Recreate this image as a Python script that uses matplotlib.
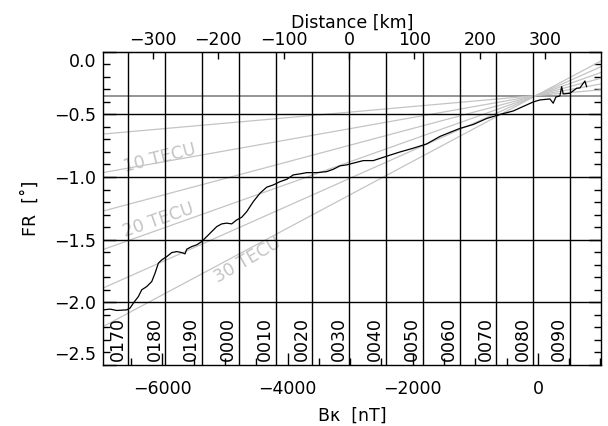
import matplotlib
matplotlib.use('Agg')
import matplotlib.pyplot as plt
from matplotlib.ticker import MultipleLocator, FuncFormatter, FixedLocator
import matplotlib.transforms as mtransforms

plt.rcParams['font.family'] = ['DejaVu Sans']

# ---- data ----
b_nT = [-6944, -6837, -6730, -6570, -6518, -6465, -6385, -6331, -6251, -6171,
        -6118, -6065, -6011, -5931, -5851, -5772, -5692, -5639, -5612, -5532,
        -5452, -5372, -5292, -5212, -5133, -5053, -4973, -4893, -4813, -4733,
        -4653, -4548, -4441, -4334, -4228, -4121, -4014, -3909, -3802, -3695,
        -3535, -3375, -3270, -3163, -3056, -3003, -2791, -2631, -2417, -2204,
        -1992, -1778, -1565, -1406, -1246, -1034, -819, -607, -395, -235,
        -75, 32, 192, 244, 288, 351, 379, 404, 511, 618,
        671, 724, 751, 778]
fr_deg = [-2.060, -2.054, -2.065, -2.060, -2.046, -2.006, -1.954, -1.900, -1.874, -1.834,
          -1.767, -1.687, -1.661, -1.635, -1.603, -1.595, -1.603, -1.613, -1.576, -1.555,
          -1.541, -1.515, -1.475, -1.435, -1.396, -1.374, -1.368, -1.374, -1.342, -1.321,
          -1.276, -1.196, -1.129, -1.081, -1.063, -1.037, -1.018, -0.983, -0.975, -0.965,
          -0.965, -0.957, -0.938, -0.911, -0.903, -0.896, -0.869, -0.869, -0.834, -0.800,
          -0.770, -0.736, -0.676, -0.644, -0.612, -0.581, -0.533, -0.501, -0.473, -0.437,
          -0.401, -0.385, -0.377, -0.411, -0.361, -0.353, -0.279, -0.337, -0.332, -0.292,
          -0.289, -0.252, -0.234, -0.279]

time_labels = ['0170', '0180', '0190', '0000', '0010', '0020', '0030',
               '0040', '0050', '0060', '0070', '0080', '0090']
time_B = [-6545, -5957, -5369, -4781, -4193, -3605, -3017,
          -2429, -1841, -1253, -665, -77, 511]

tec_values = [0, 5, 10, 15, 20, 25, 30]
fan_B0 = -30.0
fan_FR0 = -0.35
fan_k = 8.88e-6  # deg per nT per TECU

tec_labels = ['10 TECU', '20 TECU', '30 TECU']
tec_label_B = [-6597, -6597, -5107]
tec_label_FR = [-0.957, -1.475, -1.847]
tec_label_angle = [14, 19, 30]

km_zero_B = -3019.0
nT_per_km = 10.45

xlim = (-6950, 1008)
ylim = (-2.5, 0.0)

# ---- figure ----
fig = plt.figure(figsize=(6.08, 4.26), dpi=100)
ax = fig.add_axes([103/608, 1 - 365/426, (601-103)/608, (365-51.7)/426])
ax.set_xlim(*xlim)
ax.set_ylim(*ylim)

fs = 12.5
# fan lines
for tec in tec_values:
    xs = [xlim[0], xlim[1]]
    ys = [fan_FR0 + fan_k * tec * (x - fan_B0) for x in xs]
    if tec == 0:
        ax.plot(xs, ys, color='#8c8c8c', lw=1.3, zorder=2)
    else:
        ax.plot(xs, ys, color='#c4c4c4', lw=0.9, zorder=2)

for lab, bx, fy, ang in zip(tec_labels, tec_label_B, tec_label_FR, tec_label_angle):
    ax.text(bx, fy, lab, color='#c4c4c4', fontsize=fs, rotation=ang,
            rotation_mode='anchor', ha='left', va='baseline', zorder=2)

# grid lines
for y in [-0.5, -1.0, -1.5, -2.0]:
    ax.axhline(y, color='black', lw=1.0, zorder=3)
for bx in time_B:
    ax.axvline(bx, color='black', lw=1.0, zorder=3)

# time labels
for lab, bx in zip(time_labels, time_B):
    ax.text(bx - 25, -2.465, lab, rotation=90, ha='right', va='bottom',
            fontsize=fs, color='black', zorder=4)

# data curve
ax.plot(b_nT, fr_deg, color='black', lw=0.9, zorder=5)

# ticks
minus = '\u2212'
def fmt_y(v, pos):
    s = '%.1f' % v
    return s.replace('-', minus) if v < -1e-9 else '0.0'
def fmt_int(v, pos):
    s = '%d' % round(v)
    return s.replace('-', minus)

ax.xaxis.set_major_locator(FixedLocator([-6000, -4000, -2000, 0]))
ax.xaxis.set_minor_locator(MultipleLocator(500))
ax.xaxis.set_major_formatter(FuncFormatter(fmt_int))
ax.yaxis.set_major_locator(MultipleLocator(0.5))
ax.yaxis.set_minor_locator(MultipleLocator(0.1))
ax.yaxis.set_major_formatter(FuncFormatter(fmt_y))
ax.tick_params(axis='x', which='both', direction='in', top=False, bottom=True,
               labelsize=fs, pad=11)
ax.tick_params(axis='y', which='both', direction='in', left=True, right=True,
               labelsize=fs, pad=5)
ax.tick_params(which='major', length=9, width=1)
ax.tick_params(which='minor', length=5, width=1)

for sp in ax.spines.values():
    sp.set_linewidth(1.0)
    sp.set_color('black')

secax = ax.secondary_xaxis('top', functions=(lambda b: (b - km_zero_B) / nT_per_km,
                                             lambda d: d * nT_per_km + km_zero_B))
secax.xaxis.set_major_locator(FixedLocator([-300, -200, -100, 0, 100, 200, 300]))
secax.xaxis.set_major_formatter(FuncFormatter(fmt_int))
secax.tick_params(direction='in', length=5, width=1, labelsize=fs, pad=2)
secax.set_xlabel('Distance [km]', fontsize=fs, labelpad=2)

ax.set_xlabel('B\u03ba  [nT]', fontsize=fs, labelpad=6)
ax.set_ylabel('FR  [\u02da]', fontsize=fs, labelpad=10)

# shift end labels inward like the reference
fig.canvas.draw()
for lbl in ax.get_yticklabels():
    t = lbl.get_text()
    if t == '0.0':
        lbl.set_transform(lbl.get_transform() + mtransforms.ScaledTranslation(0, -8/100, fig.dpi_scale_trans))
    elif t == minus + '2.5':
        lbl.set_transform(lbl.get_transform() + mtransforms.ScaledTranslation(0, 12/100, fig.dpi_scale_trans))

fig.savefig('out.png', dpi=100)
